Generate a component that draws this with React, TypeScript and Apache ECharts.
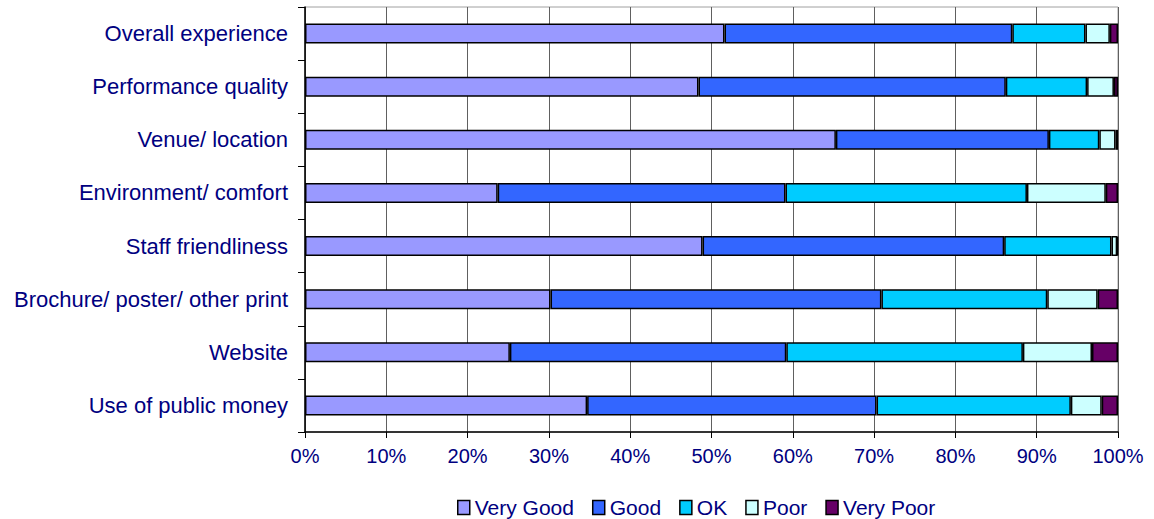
import React, { useEffect, useRef } from "react";
import * as echarts from "echarts";

const categories = [
  "Overall experience",
  "Performance quality",
  "Venue/ location",
  "Environment/ comfort",
  "Staff friendliness",
  "Brochure/ poster/ other print",
  "Website",
  "Use of public money",
];

const seriesNames = ["Very Good", "Good", "OK", "Poor", "Very Poor"];

const veryGood = [51.6, 48.4, 65.3, 23.7, 48.9, 30.2, 25.2, 34.7];
const good = [35.4, 37.8, 26.2, 35.4, 37.1, 40.7, 34.0, 35.6];
const ok = [9.0, 10.0, 6.2, 29.7, 13.2, 20.4, 29.1, 23.9];
const poor = [3.0, 3.3, 2.0, 9.7, 0.7, 6.2, 8.5, 3.8];
const veryPoor = [1.0, 0.5, 0.3, 1.5, 0.1, 2.5, 3.2, 2.0];

const colors = ["#9999FF", "#3366FF", "#00CCFF", "#CCFFFF", "#660066"];

const xTicks = [0, 10, 20, 30, 40, 50, 60, 70, 80, 90, 100];

export default function App() {
  const ref = useRef<HTMLDivElement>(null);

  useEffect(() => {
    if (!ref.current) return;
    const chart = echarts.init(ref.current, undefined, { renderer: "svg" });
    const data = [veryGood, good, ok, poor, veryPoor];
    const font = "'Liberation Sans', Arial, sans-serif";
    chart.setOption({
      animation: false,
      backgroundColor: "#ffffff",
      textStyle: { fontFamily: font },
      grid: {
        left: 305,
        right: 36,
        top: 7,
        bottom: 87,
        show: true,
        borderColor: "#a0a0a0",
        borderWidth: 1,
      },
      legend: {
        left: 457,
        top: 497,
        padding: 0,
        itemWidth: 12,
        itemHeight: 14,
        itemGap: 18,
        icon: "rect",
        textStyle: { color: "#000080", fontSize: 21, fontFamily: font },
        itemStyle: { borderColor: "#000", borderWidth: 1.5 },
        data: seriesNames,
      },
      xAxis: {
        type: "value",
        min: xTicks[0],
        max: xTicks[xTicks.length - 1],
        interval: 10,
        axisLine: { show: true, lineStyle: { color: "#000", width: 1.5 } },
        axisTick: { show: true, length: 6, lineStyle: { color: "#000" } },
        axisLabel: {
          formatter: "{value}%",
          color: "#000080",
          fontSize: 20,
          margin: 14,
          fontFamily: font,
        },
        splitLine: { show: true, lineStyle: { color: "#606060", width: 1 } },
      },
      yAxis: {
        type: "category",
        inverse: true,
        data: categories,
        axisLine: { show: true, lineStyle: { color: "#000", width: 1.5 } },
        axisTick: { show: true, length: 7, lineStyle: { color: "#000" } },
        axisLabel: {
          color: "#000080",
          fontSize: 22,
          margin: 17,
          fontFamily: font,
        },
        splitLine: { show: false },
      },
      series: seriesNames.map((name, i) => ({
        name,
        type: "bar",
        stack: "total",
        barWidth: 20,
        data: data[i],
        itemStyle: { color: colors[i], borderColor: "#000", borderWidth: 1.5 },
      })),
    });
    return () => chart.dispose();
  }, []);

  return (
    <div
      ref={ref}
      style={{ position: "fixed", left: 0, top: 0, width: 1154, height: 519 }}
    />
  );
}
